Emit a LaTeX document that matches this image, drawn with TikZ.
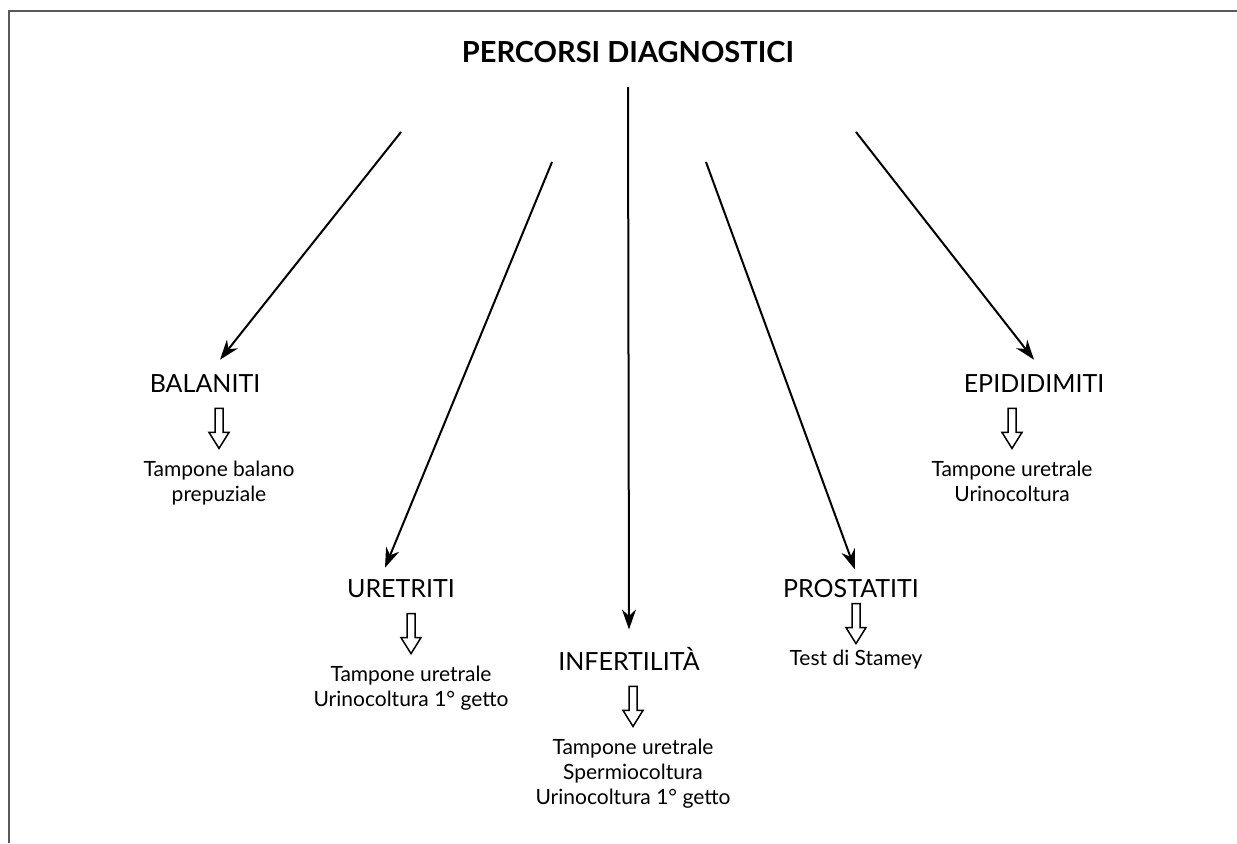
\documentclass[tikz,border=0pt]{standalone}
\usepackage{fontspec}
\setmainfont{Lato}
\usetikzlibrary{arrows.meta,positioning,calc}

% open block arrow between a label and its tests
\newcommand{\hollowarrow}[3][8pt]{%
	\draw[hollow] let \p1=(#2.south), \p2=(#3.north) in
		(\x2-2pt,\y1-#1) -- (\x2+2pt,\y1-#1) -- (\x2+2pt,\y1-#1-12pt) -- (\x2+5pt,\y1-#1-12pt)
		-- (\x2,\y1-#1-20pt) -- (\x2-5pt,\y1-#1-12pt) -- (\x2-2pt,\y1-#1-12pt) -- cycle;}

\begin{document}
\begin{tikzpicture}[
	x=0.5pt, y=-0.5pt,
	node distance=34pt,
	>={Stealth[length=10pt, width=7pt]},
	arr/.style={->, line width=1pt},
	title/.style={font=\bfseries\fontsize{14.5}{17}\selectfont},
	disease/.style={inner sep=0pt, anchor=base, font=\fontsize{12.5}{15}\selectfont},
	exam/.style={inner sep=0pt, align=center, font=\fontsize{10.5}{12.5}\selectfont},
	hollow/.style={draw, line width=0.75pt, fill=white, line join=miter},
	frame/.style={draw=black!65, line width=1pt}
]
\useasboundingbox (0,0) rectangle (1237,843);
\draw[frame] (9,843) -- (9,11) -- (1237,11);

\node[title] (title) at (628,52) {PERCORSI DIAGNOSTICI};

\node[disease] (bal) at (205,392) {BALANITI};
\node[disease] (ure) at (401,597) {URETRITI};
\node[disease] (inf) at (629,670) {INFERTILITÀ};
\node[disease] (pro) at (851,597) {PROSTATITI};
\node[disease] (epi) at (1034,392) {EPIDIDIMITI};

\node[exam, below=of bal, xshift=7pt] (balx) {Tampone balano\\prepuziale};
\node[exam, below=of ure, xshift=5pt] (urex) {Tampone uretrale\\Urinocoltura 1° getto};
\node[exam, below=of inf, xshift=2pt] (infx) {Tampone uretrale\\Spermiocoltura\\Urinocoltura 1° getto};
\node[exam, below=26pt of pro, xshift=2.5pt] (prox) {Test di Stamey};
\node[exam, below=of epi, xshift=-11pt] (epix) {Tampone uretrale\\Urinocoltura};

\coordinate (from1) at (401,132);
\coordinate (from2) at (552,162);
\coordinate (from3) at (628,87);
\coordinate (from4) at (706,162);
\coordinate (from5) at (856,132);

\draw[arr] (from1) -- ([xshift=7.5pt, yshift=7pt]bal.north);
\draw[arr] (from2) -- ([xshift=-8pt, yshift=5.5pt]ure.north);
\draw[arr] (from3) -- ([yshift=8.5pt]inf.north);
\draw[arr] (from4) -- ([xshift=2pt, yshift=4.5pt]pro.north);
\draw[arr] (from5) -- ([yshift=7pt]epi.north);

\hollowarrow{bal}{balx}
\hollowarrow{ure}{urex}
\hollowarrow{inf}{infx}
\hollowarrow[3pt]{pro}{prox}
\hollowarrow{epi}{epix}
\end{tikzpicture}
\end{document}
